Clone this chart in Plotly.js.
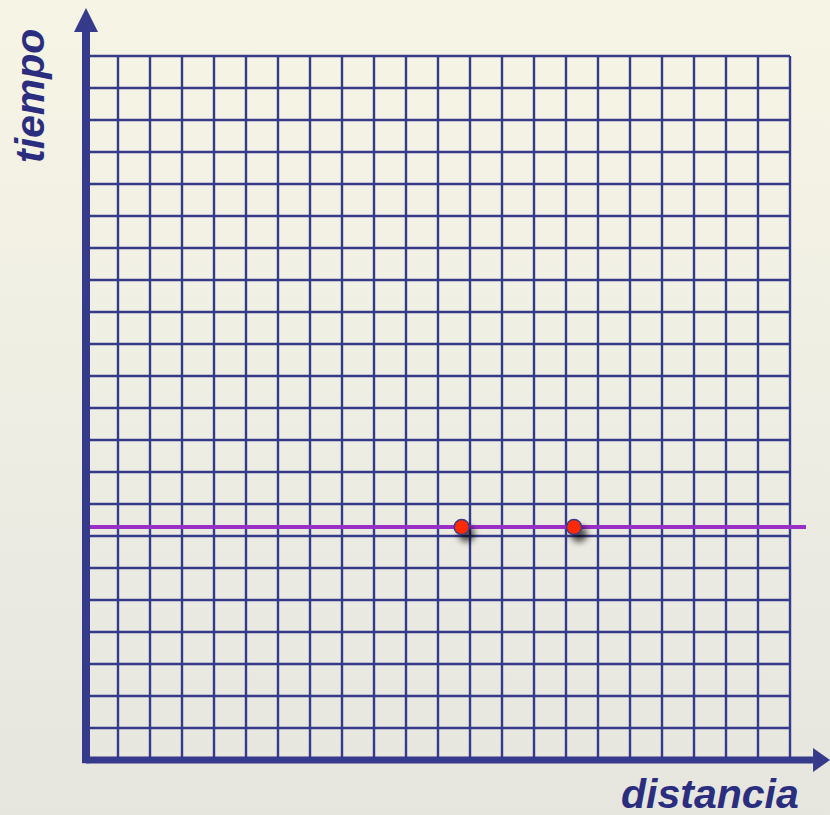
<!DOCTYPE html>
<html>
<head>
<meta charset="utf-8">
<script src="https://cdn.plot.ly/plotly-3.0.1.min.js"></script>
<style>
  html, body { margin: 0; padding: 0; }
  body {
    width: 830px; height: 815px; overflow: hidden;
    background: linear-gradient(180deg, #f6f4e4 0%, #f1f0e4 35%, #ebeae2 70%, #e6e6df 100%);
  }
  #chart { width: 830px; height: 815px; }
</style>
</head>
<body>
<div id="chart"></div>
<script>
// ---- data ----
const gridCols = 22;            // number of grid columns (distancia units)
const gridRows = 22;            // number of grid rows (tiempo units)
const lineX = [0, 22.5];        // horizontal (constant tiempo) line
const lineY = [7.28, 7.28];
const dotX = [11.74, 15.25];    // two marked points
const dotY = [7.28, 7.28];
const xLabel = 'distancia';
const yLabel = 'tiempo';

// ---- build grid through the axes ----
const gx = [], gy = [];
for (let i = 0; i <= gridCols; i++) { gx.push(i, i, null); gy.push(0, gridRows, null); }
for (let j = 0; j <= gridRows; j++) { gx.push(0, gridCols, null); gy.push(j, j, null); }

const navy = '#363a8a';
const textNavy = '#2b2e7e';

const traces = [
  { x: gx, y: gy, mode: 'lines', line: { color: navy, width: 2.4 }, hoverinfo: 'skip', connectgaps: false },
  { x: lineX, y: lineY, mode: 'lines', line: { color: '#9a2fc8', width: 4 }, hoverinfo: 'skip' },
  { x: dotX, y: dotY, mode: 'markers', cliponaxis: false,
    marker: { size: 15, color: '#ff2a00', line: { color: '#3a3a8c', width: 1.5 } }, hoverinfo: 'skip' }
];

const yTop = gridRows + 0.75, yTip = gridRows + 1.5, xEnd = gridCols + 0.72, xTip = gridCols + 1.25;
const shapes = [
  { type: 'line', x0: 0, x1: 0, y0: -0.1, y1: yTop, line: { color: navy, width: 8 } },
  { type: 'line', x0: 0, x1: xEnd, y0: 0, y1: 0, line: { color: navy, width: 7 } },
  { type: 'path', path: `M ${-0.375} ${yTop} L 0 ${yTip} L ${0.375} ${yTop} Z`, fillcolor: navy, line: { width: 0 } },
  { type: 'path', path: `M ${xEnd} ${-0.375} L ${xTip} 0 L ${xEnd} ${0.375} Z`, fillcolor: navy, line: { width: 0 } }
];

const labelFont = { family: 'Liberation Sans, Arial, sans-serif', size: 41, color: textNavy, weight: 'bold', style: 'italic' };

const layout = {
  width: 830, height: 815,
  margin: { l: 0, r: 0, t: 0, b: 0, pad: 0 },
  paper_bgcolor: 'rgba(0,0,0,0)', plot_bgcolor: 'rgba(0,0,0,0)',
  showlegend: false,
  xaxis: { range: [-86 / 32, 744 / 32], visible: false, fixedrange: true },
  yaxis: { range: [-55 / 32, 760 / 32], visible: false, fixedrange: true },
  shapes: shapes,
  annotations: [
    { text: xLabel, xref: 'paper', yref: 'paper', x: 710 / 830, y: 1 - 794 / 815,
      xanchor: 'center', yanchor: 'middle', showarrow: false, font: labelFont, borderpad: 0 },
    { text: yLabel, xref: 'paper', yref: 'paper', x: 30 / 830, y: 1 - 96 / 815, textangle: -90,
      xanchor: 'center', yanchor: 'middle', showarrow: false, font: labelFont, borderpad: 0 }
  ]
};

Plotly.newPlot('chart', traces, layout, { staticPlot: true, displayModeBar: false }).then(() => {
  document.querySelectorAll('.scatterlayer .trace:last-child .point').forEach(p => {
    p.style.filter = 'drop-shadow(5px 7px 3px rgba(0,0,0,0.65))';
  });
});
</script>
</body>
</html>
